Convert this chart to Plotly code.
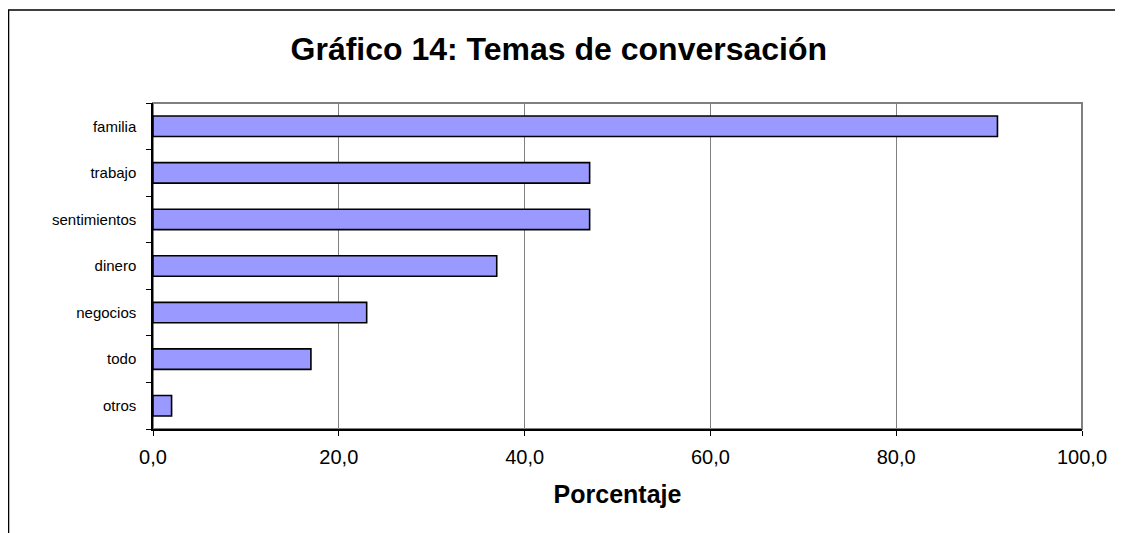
import plotly.graph_objects as go

temas = ["familia", "trabajo", "sentimientos", "dinero", "negocios", "todo", "otros"]
porcentajes = [90.9, 47.0, 47.0, 37.0, 23.0, 17.0, 2.0]
x_ticks = [0, 20, 40, 60, 80, 100]
x_tick_labels = ["0,0", "20,0", "40,0", "60,0", "80,0", "100,0"]

fig = go.Figure()

fig.add_trace(
    go.Bar(
        x=porcentajes,
        y=temas,
        orientation="h",
        marker=dict(color="#9999FF", line=dict(color="black", width=1.6)),
        width=0.44,
        hoverinfo="x+y",
    )
)

# marco gris del área de trazado
fig.add_shape(
    type="rect", xref="paper", yref="paper", x0=0, x1=1, y0=0, y1=1,
    line=dict(color="#808080", width=2), layer="below",
)

# borde exterior del gráfico
fig.add_shape(
    type="rect", xref="paper", yref="paper",
    x0=-0.1555, x1=1.043, y0=-0.4, y1=1.285,
    line=dict(color="black", width=1.5), layer="below",
)

# la página deja 8 px de margen: la figura se ajusta a ello
fig.update_layout(
    width=1115,
    height=525,
    margin=dict(l=145, r=41, t=95, b=104),
    paper_bgcolor="white",
    plot_bgcolor="white",
    showlegend=False,
    font=dict(family="Liberation Sans, Arial, sans-serif", color="black"),
    title=dict(
        text="<b>Gráfico 14: Temas de conversación</b>",
        x=0.494, xanchor="center",
        y=0.922, yanchor="middle",
        font=dict(size=32, color="black"),
    ),
    xaxis=dict(
        range=[0, 100],
        tickvals=x_ticks,
        ticktext=x_tick_labels,
        tickfont=dict(size=20),
        showgrid=True,
        gridcolor="#808080",
        gridwidth=1,
        showline=True,
        linecolor="black",
        linewidth=1.5,
        ticks="outside",
        ticklen=5,
        tickcolor="black",
        zeroline=False,
        ticklabelstandoff=4,
        title=dict(text="<b>Porcentaje</b>", font=dict(size=25), standoff=19),
    ),
    yaxis=dict(
        categoryorder="array",
        categoryarray=temas[::-1],
        tickfont=dict(size=15),
        showgrid=False,
        showline=True,
        linecolor="black",
        linewidth=1.5,
        ticks="outside",
        tickson="boundaries",
        ticklen=5,
        tickcolor="black",
        ticklabelstandoff=12,
    ),
)

fig.write_html("out.html")
